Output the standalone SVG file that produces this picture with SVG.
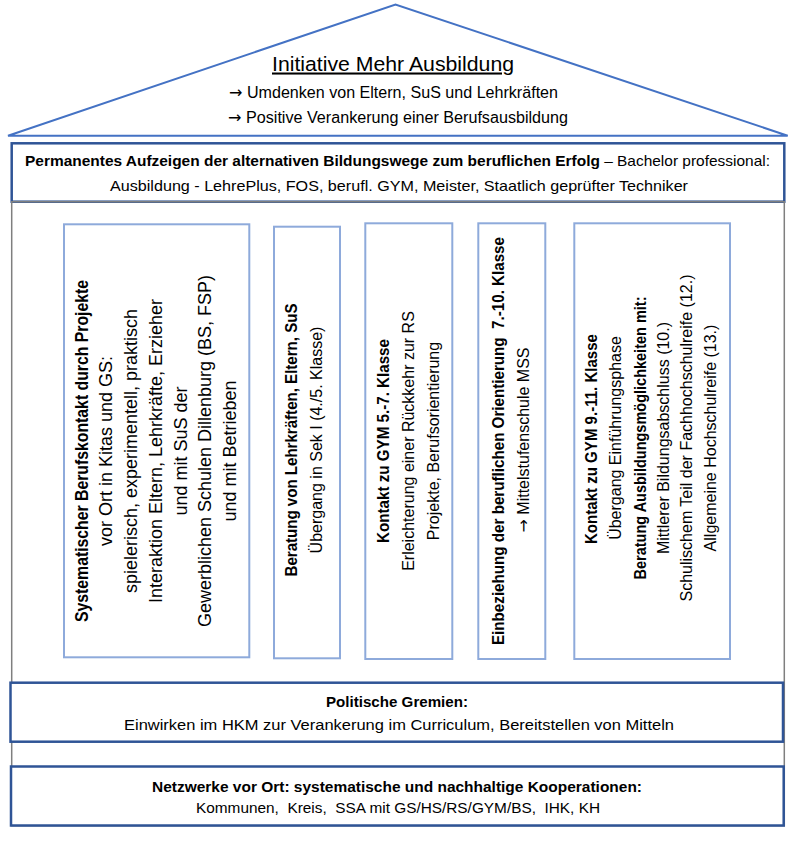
<svg xmlns="http://www.w3.org/2000/svg" width="796" height="841" viewBox="0 0 796 841">
<style>
  .t { font-family: "Liberation Sans", Arial, sans-serif; fill: #000; }
  .b { font-weight: bold; }
  .v1 { font-size: 18px; }
  .v { font-size: 16px; }
  .h { font-size: 15.5px; }
  .arr { font-family: "DejaVu Sans", sans-serif; }
  .roof { fill: #fff; stroke: #4472C4; stroke-width: 2; stroke-linejoin: miter; }
  .thick { fill: #fff; stroke: #2F5496; stroke-width: 2.5; }
  .light { fill: #fff; stroke: #8EAADB; stroke-width: 2; }
  .gray { fill: none; stroke: #7F7F7F; stroke-width: 1.5; }
</style>
<rect x="0" y="0" width="796" height="841" fill="#fff"/>

<g id="roof">
  <polygon class="roof" points="8,135.7 395.5,4.5 787.7,135.7"/>
  <text class="t" x="393" y="70.5" text-anchor="middle" font-size="20.5" text-decoration="underline" textLength="242" lengthAdjust="spacingAndGlyphs">Initiative Mehr Ausbildung</text>
  <text class="t" x="229" y="97.5" font-size="16" textLength="329" lengthAdjust="spacingAndGlyphs"><tspan class="arr">→</tspan> Umdenken von Eltern, SuS und Lehrkräften</text>
  <text class="t" x="228" y="122.5" font-size="16" textLength="340" lengthAdjust="spacingAndGlyphs"><tspan class="arr">→</tspan> Positive Verankerung einer Berufsausbildung</text>
</g>

<g id="permanent">
  <rect class="thick" x="11.7" y="143.3" width="772.6" height="58.4"/>
  <text class="t" x="397.5" y="166" text-anchor="middle" font-size="15" textLength="745" lengthAdjust="spacingAndGlyphs"><tspan class="b">Permanentes Aufzeigen der alternativen Bildungswege zum beruflichen Erfolg</tspan> – Bachelor professional:</text>
  <text class="t" x="399" y="191" text-anchor="middle" font-size="15" textLength="578" lengthAdjust="spacingAndGlyphs">Ausbildung - LehrePlus, FOS, berufl. GYM, Meister, Staatlich geprüfter Techniker</text>
</g>

<g id="house-body">
  <rect class="gray" x="11.7" y="201.7" width="772.6" height="624"/>
</g>

<g id="col1">
  <rect class="light" x="64" y="224.3" width="185.3" height="433"/>
  <text class="t v1 b" transform="translate(87.7,451) rotate(-90)" text-anchor="middle" textLength="342" lengthAdjust="spacingAndGlyphs">Systematischer Berufskontakt durch Projekte</text>
  <text class="t v1" transform="translate(112,451) rotate(-90)" text-anchor="middle">vor Ort in Kitas und GS:</text>
  <text class="t v1" transform="translate(136.7,451) rotate(-90)" text-anchor="middle">spielerisch, experimentell, praktisch</text>
  <text class="t v1" transform="translate(162,451) rotate(-90)" text-anchor="middle">Interaktion Eltern, Lehrkräfte, Erzieher</text>
  <text class="t v1" transform="translate(186.7,451) rotate(-90)" text-anchor="middle">und mit SuS der</text>
  <text class="t v1" transform="translate(211,451) rotate(-90)" text-anchor="middle">Gewerblichen Schulen Dillenburg (BS, FSP)</text>
  <text class="t v1" transform="translate(236,451) rotate(-90)" text-anchor="middle">und mit Betrieben</text>
</g>

<g id="col2">
  <rect class="light" x="274" y="226.7" width="66" height="431.6"/>
  <text class="t v b" transform="translate(297.2,440) rotate(-90)" text-anchor="middle" textLength="273" lengthAdjust="spacingAndGlyphs">Beratung von Lehrkräften, Eltern, SuS</text>
  <text class="t v" transform="translate(322.2,440) rotate(-90)" text-anchor="middle">Übergang in Sek I (4./5. Klasse)</text>
</g>

<g id="col3">
  <rect class="light" x="365.3" y="223.3" width="87" height="435.7"/>
  <text class="t v b" transform="translate(388.8,441) rotate(-90)" text-anchor="middle" textLength="204" lengthAdjust="spacingAndGlyphs">Kontakt zu GYM 5.-7. Klasse</text>
  <text class="t v" transform="translate(413.8,441) rotate(-90)" text-anchor="middle">Erleichterung einer Rückkehr zur RS</text>
  <text class="t v" transform="translate(438.8,441) rotate(-90)" text-anchor="middle">Projekte, Berufsorientierung</text>
</g>

<g id="col4">
  <rect class="light" x="478.3" y="223.3" width="67" height="435.7"/>
  <text class="t v b" transform="translate(503.8,441) rotate(-90)" text-anchor="middle" textLength="408" lengthAdjust="spacingAndGlyphs">Einbeziehung der beruflichen Orientierung&#160; 7.-10. Klasse</text>
  <text class="t v" transform="translate(528.8,440) rotate(-90)" text-anchor="middle"><tspan class="arr">→</tspan> Mittelstufenschule MSS</text>
</g>

<g id="col5">
  <rect class="light" x="574.3" y="223.3" width="155.7" height="435.7"/>
  <text class="t v b" transform="translate(597.2,439) rotate(-90)" text-anchor="middle" textLength="210" lengthAdjust="spacingAndGlyphs">Kontakt zu GYM 9.-11. Klasse</text>
  <text class="t v" transform="translate(620.5,438) rotate(-90)" text-anchor="middle">Übergang Einführungsphase</text>
  <text class="t v b" transform="translate(645.5,438) rotate(-90)" text-anchor="middle" textLength="283" lengthAdjust="spacingAndGlyphs">Beratung Ausbildungsmöglichkeiten mit:</text>
  <text class="t v" transform="translate(668.8,438) rotate(-90)" text-anchor="middle">Mittlerer Bildungsabschluss (10.)</text>
  <text class="t v" transform="translate(692.2,438) rotate(-90)" text-anchor="middle">Schulischem Teil der Fachhochschulreife (12.)</text>
  <text class="t v" transform="translate(715.5,438) rotate(-90)" text-anchor="middle">Allgemeine Hochschulreife (13.)</text>
</g>

<g id="politik">
  <rect class="thick" x="10.5" y="682.7" width="772.5" height="59"/>
  <text class="t h b" x="397" y="707" text-anchor="middle" textLength="142" lengthAdjust="spacingAndGlyphs">Politische Gremien:</text>
  <text class="t h" x="399" y="730" text-anchor="middle" textLength="550" lengthAdjust="spacingAndGlyphs">Einwirken im HKM zur Verankerung im Curriculum, Bereitstellen von Mitteln</text>
</g>

<g id="netzwerke">
  <rect class="thick" x="11" y="766.5" width="772.7" height="59"/>
  <text class="t h b" x="397" y="792" text-anchor="middle" textLength="490" lengthAdjust="spacingAndGlyphs">Netzwerke vor Ort: systematische und nachhaltige Kooperationen:</text>
  <text class="t h" x="398" y="813" text-anchor="middle" textLength="404" lengthAdjust="spacingAndGlyphs">Kommunen,&#160; Kreis,&#160; SSA mit GS/HS/RS/GYM/BS,&#160; IHK, KH</text>
</g>

<g id="connectors"/>
</svg>
